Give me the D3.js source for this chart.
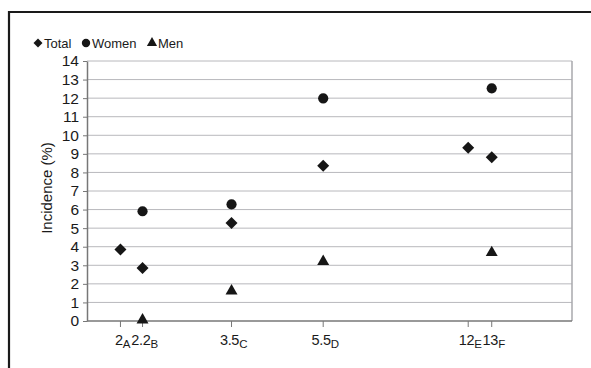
<!DOCTYPE html>
<html>
<head>
<meta charset="utf-8">
<script src="https://cdn.jsdelivr.net/npm/d3@7"></script>
<style>
  body { margin: 0; background: #fff; }
  text { font-family: "Liberation Sans", Arial, sans-serif; fill: #1a1a1a; }
</style>
</head>
<body>
<svg id="chart" width="591" height="368"></svg>
<script>
// study groups along the x axis
const groups = ['A', 'B', 'C', 'D', 'E', 'F'];
const groupLabels = ['2', '2.2', '3.5', '5.5', '12', '13'];
// where each group sits on the (unlabelled) horizontal scale
const groupPositions = [1.38, 2.29, 5.96, 9.74, 15.72, 16.69];

// incidence (%) per group, null where not reported
const totalValues = [3.85, 2.86, 5.28, 8.36, 9.33, 8.82];
const womenValues = [null, 5.91, 6.28, 11.99, null, 12.53];
const menValues = [null, 0, 1.56, 3.15, null, 3.63];

const yTicks = d3.range(0, 15);

const svg = d3.select('#chart');
const margin = { top: 61, right: 19, bottom: 47, left: 87 };
const width = 591, height = 368;
const chartWidth = width - margin.left - margin.right;
const chartHeight = height - margin.top - margin.bottom;

// outer frame (only top and left visible in the original crop)
svg.append('path')
  .attr('d', `M9,${height} V12 H${width}`)
  .attr('fill', 'none')
  .attr('stroke', '#1a1a1a')
  .attr('stroke-width', 2.2);

const xScale = d3.scaleLinear().domain([0, 20]).range([0, chartWidth]);
const yScale = d3.scaleLinear().domain([0, 14]).range([chartHeight, 0]);

const g = svg.append('g')
  .attr('transform', `translate(${margin.left},${margin.top})`);

// gridlines
g.append('g')
  .selectAll('line')
  .data(yTicks.filter(d => d > 0))
  .join('line')
  .attr('x1', 0)
  .attr('x2', chartWidth)
  .attr('y1', d => yScale(d))
  .attr('y2', d => yScale(d))
  .attr('stroke', '#b8b8bc')
  .attr('stroke-width', 1);

// right border of plot area
g.append('line')
  .attr('x1', chartWidth).attr('x2', chartWidth)
  .attr('y1', 0).attr('y2', chartHeight)
  .attr('stroke', '#a8a8ac')
  .attr('stroke-width', 1.5);

// y axis
const yAxis = d3.axisLeft(yScale).tickValues(yTicks).tickSize(4).tickSizeOuter(0).tickPadding(4);
const yg = g.append('g').call(yAxis);
yg.select('.domain').attr('stroke', '#777').attr('stroke-width', 1.5);
yg.selectAll('.tick line').attr('stroke', '#777');
yg.selectAll('.tick text')
  .attr('font-size', 15.5)
  .attr('fill', '#1a1a1a')
  .attr('font-family', '"Liberation Sans", Arial, sans-serif');

// x axis line and ticks
const xg = g.append('g').attr('transform', `translate(0,${chartHeight})`);
xg.append('line')
  .attr('x1', 0).attr('x2', chartWidth)
  .attr('stroke', '#777').attr('stroke-width', 1.5);
xg.selectAll('line.tick')
  .data(groupPositions)
  .join('line')
  .attr('class', 'tick')
  .attr('x1', d => xScale(d)).attr('x2', d => xScale(d))
  .attr('y1', 0).attr('y2', 6)
  .attr('stroke', '#777');

const xLabels = xg.selectAll('text.xlabel')
  .data(groups)
  .join('text')
  .attr('class', 'xlabel')
  .attr('x', (d, i) => xScale(groupPositions[i]) + 2)
  .attr('y', 24)
  .attr('text-anchor', 'middle')
  .attr('font-size', 14.5)
  .attr('letter-spacing', -0.3);
xLabels.append('tspan').text((d, i) => groupLabels[i]);
xLabels.append('tspan')
  .attr('dy', 3)
  .attr('font-size', 11.5)
  .text(d => d);

// y axis title
svg.append('text')
  .attr('transform', `translate(52,${margin.top + chartHeight / 2 - 3}) rotate(-90)`)
  .attr('text-anchor', 'middle')
  .attr('font-size', 15)
  .text('Incidence (%)');

// markers
const markerColor = '#161616';
const series = [
  { name: 'Total', values: totalValues, symbol: d3.symbolSquare, size: 72, rotate: 45 },
  { name: 'Women', values: womenValues, symbol: d3.symbolCircle, size: 82, rotate: 0 },
  { name: 'Men', values: menValues, symbol: d3.symbolTriangle, size: 62, rotate: 0 }
];

series.forEach(s => {
  const pts = s.values
    .map((v, i) => ({ v, x: groupPositions[i] }))
    .filter(p => p.v !== null);
  g.append('g')
    .selectAll('path')
    .data(pts)
    .join('path')
    .attr('d', d3.symbol().type(s.symbol).size(s.size))
    .attr('transform', d => `translate(${xScale(d.x)},${yScale(d.v) - (s.symbol === d3.symbolTriangle ? 1 : 0)}) rotate(${s.rotate})`)
    .attr('fill', markerColor);
});

// legend
const legend = svg.append('g').attr('transform', 'translate(38,43)');
const legendItems = [
  { label: 'Total', symbol: d3.symbolSquare, size: 40, rotate: 45, x: 0 },
  { label: 'Women', symbol: d3.symbolCircle, size: 55, rotate: 0, x: 48 },
  { label: 'Men', symbol: d3.symbolTriangle, size: 45, rotate: 0, x: 114 }
];
legendItems.forEach(item => {
  legend.append('path')
    .attr('d', d3.symbol().type(item.symbol).size(item.size))
    .attr('transform', `translate(${item.x},0) rotate(${item.rotate})`)
    .attr('fill', markerColor);
  legend.append('text')
    .attr('x', item.x + 6)
    .attr('y', 0)
    .attr('dy', '0.35em')
    .attr('font-size', 13)
    .text(item.label);
});
</script>
</body>
</html>
